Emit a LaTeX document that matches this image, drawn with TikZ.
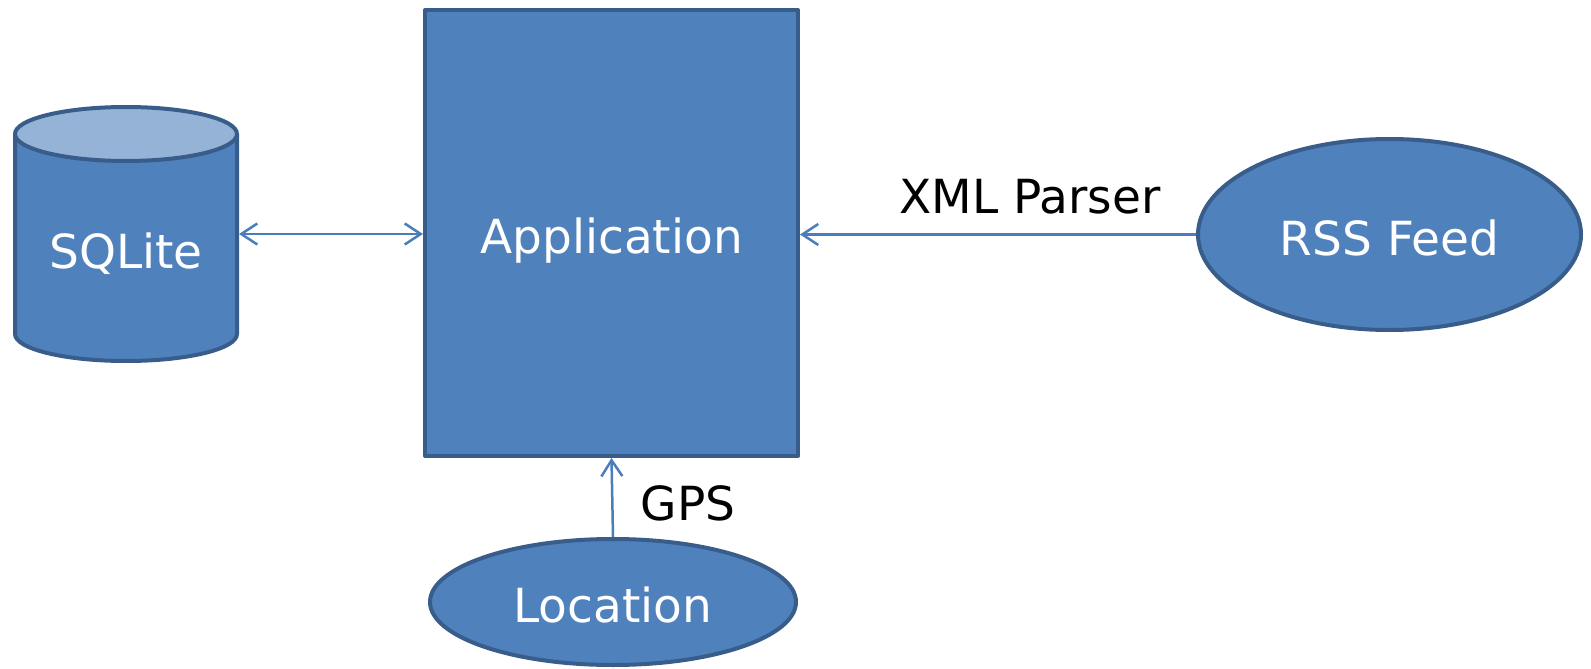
\documentclass[tikz,border=0pt]{standalone}
\usepackage{fontspec}
\setmainfont{DejaVu Sans}
\usetikzlibrary{shapes.geometric,arrows.meta}
\definecolor{boxfill}{HTML}{4F81BD}
\definecolor{boxline}{HTML}{385D8A}
\definecolor{capfill}{HTML}{95B3D7}
\definecolor{arrowcol}{HTML}{4A7EBB}
\tikzset{
  shapestyle/.style={fill=boxfill, draw=boxline, line width=4pt, inner sep=0pt},
  boxtext/.style={text=white, font=\fontsize{47}{56}\selectfont, anchor=base, inner sep=0pt},
  labeltext/.style={text=black, font=\fontsize{47}{56}\selectfont, anchor=base, inner sep=0pt},
  conn/.style={draw=arrowcol, line width=2.5pt},
  tip/.tip={Straight Barb[length=16pt, width=21pt, line width=2.5pt]}
}
\begin{document}
\begin{tikzpicture}[x=1pt, y=-1pt]
\useasboundingbox (0,0) rectangle (1591,669);
% cylinder (SQLite)
\draw[fill=boxfill, draw=boxline, line width=4pt, line join=round]
  (15,134) -- (15,334) arc[start angle=180, end angle=360, x radius=111, y radius=-27]
  -- (237,134);
\draw[fill=capfill, draw=boxline, line width=4pt] (126,134) ellipse[x radius=111, y radius=27];
\node[minimum width=226pt, minimum height=258pt, inner sep=0pt, outer sep=0pt] (sql) at (126,234) {};
\node[boxtext] (sqlt) at (126,268) {SQLite};
% application
\node[shapestyle, rectangle, line join=round, minimum width=373pt, minimum height=446pt] (app) at (611.5,233) {};
\node[boxtext] (appt) at (611.5,253) {Application};
% RSS feed
\node[shapestyle, ellipse, minimum width=383pt, minimum height=191pt] (rss) at (1389.5,234.5) {};
\node[boxtext] (rsst) at (1389.5,255) {RSS Feed};
% Location
\node[shapestyle, ellipse, minimum width=366pt, minimum height=126pt] (loc) at (613,602) {};
\node[boxtext] (loct) at (613,622) {Location};
% labels
\node[labeltext] (xml) at (1030,213) {XML Parser};
\node[labeltext] (gps) at (688,520) {GPS};
% connectors
\draw[conn, {tip}-{tip}] (sql.east) -- (app.west |- sql.east);
\draw[conn, -{tip}] (rss.west) -- (app.east |- rss.west);
\draw[conn, -{tip}] (loc.north) -- (app.south);
\end{tikzpicture}
\end{document}
